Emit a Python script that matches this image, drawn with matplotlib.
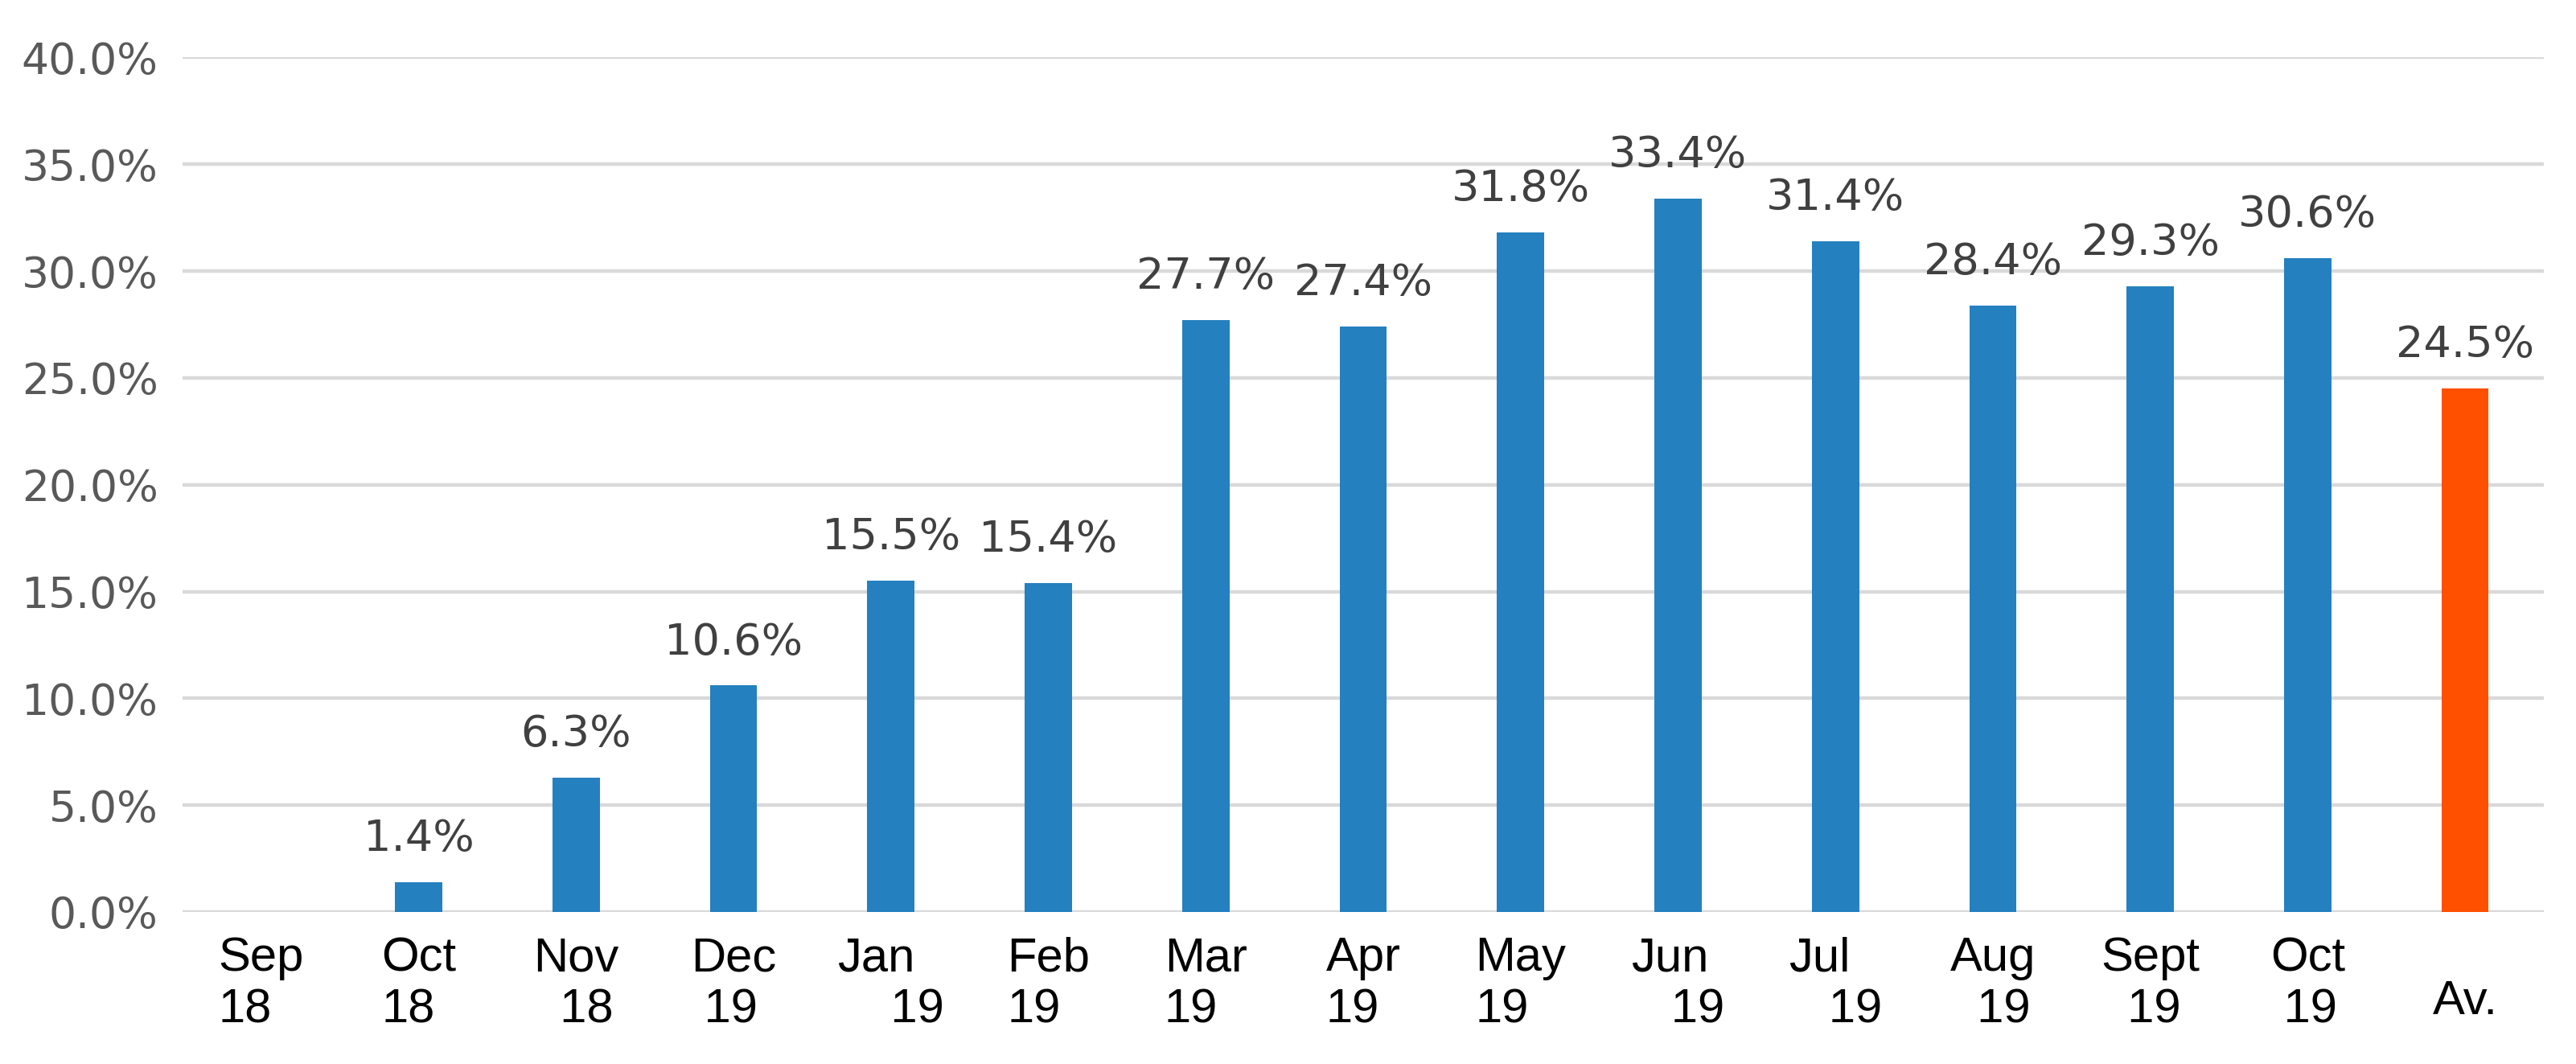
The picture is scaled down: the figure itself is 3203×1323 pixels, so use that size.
import matplotlib
matplotlib.use("Agg")
import matplotlib.pyplot as plt
import numpy as np

categories = ["Sep\n18", "Oct\n18", "Nov\n  18", "Dec\n 19", "Jan\n    19", "Feb\n19",
              "Mar\n19", "Apr\n19", "May\n19", "Jun\n   19", "Jul\n   19", "Aug\n  19",
              "Sept\n  19", "Oct\n 19", "Av."]
values = [0.0, 1.4, 6.3, 10.6, 15.5, 15.4, 27.7, 27.4, 31.8, 33.4, 31.4, 28.4, 29.3, 30.6, 24.5]
labels = ["", "1.4%", "6.3%", "10.6%", "15.5%", "15.4%", "27.7%", "27.4%", "31.8%",
          "33.4%", "31.4%", "28.4%", "29.3%", "30.6%", "24.5%"]
yticks = [0, 5, 10, 15, 20, 25, 30, 35, 40]

BLUE = "#2480BF"
ORANGE = "#FF5000"
colors = [BLUE] * (len(values) - 1) + [ORANGE]

fig = plt.figure(figsize=(32.03, 13.23), dpi=100)
ax = fig.add_axes([0.0709, 0.1429, 0.9166, 0.8031])

x = np.arange(len(values))
bars = ax.bar(x, values, width=0.3, color=colors, zorder=3)

for xi, v, lab in zip(x, values, labels):
    if lab:
        ax.annotate(lab, (xi, v), xytext=(0, 20), textcoords="offset points",
                    ha="center", va="bottom", fontsize=39, color="#404040",
                    family="DejaVu Sans", clip_on=False)

ax.set_xlim(-0.5, len(values) - 0.5)
ax.set_ylim(0, 40)
ax.set_yticks(yticks)
ax.set_yticklabels([f"{t:.1f}%" for t in yticks], fontsize=38.5, color="#595959",
                   family="DejaVu Sans")
ax.set_xticks(x)
ax.set_xticklabels(categories, fontsize=43, color="black", family="Liberation Sans",
                   linespacing=1.2, multialignment="left")
for t in ax.get_xticklabels():
    t.set_verticalalignment("top")
ax.tick_params(axis="x", length=0, pad=22)
ax.tick_params(axis="y", length=0, pad=22)

ax.grid(axis="y", color="#D9D9D9", linewidth=3.2, zorder=0)
for s in ax.spines.values():
    s.set_visible(False)

# Av. label single line, centred vertically against the two-line labels
avlab = ax.get_xticklabels()[-1]
avlab.set_y(-0.05)

fig.savefig("out.png", dpi=100, facecolor="white")
